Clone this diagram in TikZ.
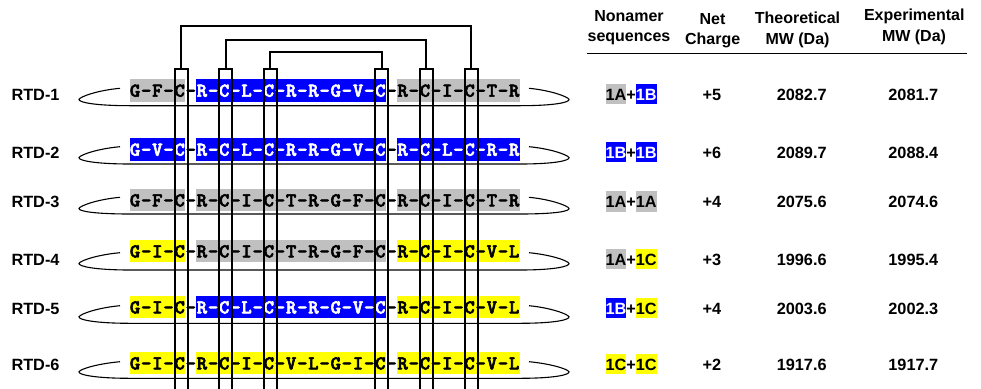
\documentclass[tikz,border=0pt]{standalone}
\usepackage{fontspec}
\setmainfont{Liberation Sans}
\newfontfamily\seqfont{lmmonolt10-bold.otf}[FakeBold=3]
\definecolor{resA}{HTML}{C0C0C0}
\definecolor{resB}{HTML}{0000FF}
\definecolor{resC}{HTML}{FFFF00}

% residues set on a fixed pitch, one cell per character
\newlength\respitch
\setlength\respitch{11.15pt}
\newcommand\rescells[1]{\rescellsi#1\relax}
\def\rescellsi#1{\ifx#1\relax\else\makebox[\respitch]{#1}\expandafter\rescellsi\fi}

% one cyclic peptide: three coloured nonamer halves joined by plain hyphens
\newcommand\peprow[8]{%
  \node[#3] (r#1a) at (129.5,#2) {\rescells{#4}};
  \node[seglink] (r#1d1) at (r#1a.base east) {\rescells{-}};
  \node[#5] (r#1b) at (r#1d1.base east) {\rescells{#6}};
  \node[seglink] (r#1d2) at (r#1b.base east) {\rescells{-}};
  \node[#7] (r#1c) at (r#1d2.base east) {\rescells{#8}};
}
% backbone closing the ring: top stroke, tips, bottom line
\newcommand\peptail[3]{%
  \draw[tail] (120,#1) .. controls (98,#1+2) and (81,#2-3) .. (79,#2)
    .. controls (78,#2+3) and (95,#3) .. (130,#3) -- (520,#3)
    .. controls (555,#3) and (570,#2+3) .. (569,#2)
    .. controls (567,#2-3) and (550,#1+2) .. (529,#1);
}
% one line of the table
\newcommand\tabrow[9]{%
  \node[lab] (lab#1) at (35.5,#2) {RTD-#1};
  \node[#3] (n#1a) at (605.5,#2) {#4};
  \node[plus] (n#1p) at (n#1a.base east) {+};
  \node[#5] (n#1b) at (n#1p.base east) {#6};
  \node[cell] (q#1) at (712,#2) {#7};
  \node[cell] (t#1) at (801.7,#2) {#8};
  \node[cell] (e#1) at (913.3,#2) {#9};
}

\begin{document}
\begin{tikzpicture}[x=1pt,y=-1pt,
  seg/.style={inner xsep=0pt,inner ysep=0pt,outer sep=0pt,anchor=base west,
    text height=17.4pt,text depth=5pt,
    font=\seqfont\fontsize{19.6pt}{20pt}\selectfont},
  segA/.style={seg,fill=resA,text=black},
  segB/.style={seg,fill=resB,text=white},
  segC/.style={seg,fill=resC,text=black},
  seglink/.style={seg,text=black},
  datafont/.style={font=\bfseries\fontsize{16.3pt}{18pt}\selectfont},
  lab/.style={datafont,inner sep=0pt,anchor=base},
  cell/.style={datafont,inner sep=0pt,anchor=base},
  head/.style={font=\bfseries\fontsize{16pt}{18pt}\selectfont,inner sep=0pt,anchor=base},
  nbox/.style={datafont,inner xsep=0pt,inner ysep=0pt,outer sep=0pt,anchor=base west,
    text height=16.5pt,text depth=3.8pt},
  nonA/.style={nbox,fill=resA,text=black},
  nonB/.style={nbox,fill=resB,text=white},
  nonC/.style={nbox,fill=resC,text=black},
  plus/.style={nbox,text=black},
  tail/.style={line width=1.1pt},
  bond/.style={line width=2pt,line join=miter}]
\useasboundingbox (0,0) rectangle (981,388);

% sequences
\peprow{1}{96.7}{segA}{G-F-C}{segB}{R-C-L-C-R-R-G-V-C}{segA}{R-C-I-C-T-R}
\peprow{2}{155.7}{segB}{G-V-C}{segB}{R-C-L-C-R-R-G-V-C}{segB}{R-C-L-C-R-R}
\peprow{3}{206.4}{segA}{G-F-C}{segA}{R-C-I-C-T-R-G-F-C}{segA}{R-C-I-C-T-R}
\peprow{4}{257.4}{segC}{G-I-C}{segA}{R-C-I-C-T-R-G-F-C}{segC}{R-C-I-C-V-L}
\peprow{5}{313.4}{segC}{G-I-C}{segB}{R-C-L-C-R-R-G-V-C}{segC}{R-C-I-C-V-L}
\peprow{6}{369.4}{segC}{G-I-C}{segC}{R-C-I-C-V-L-G-I-C}{segC}{R-C-I-C-V-L}

% ring backbones
\peptail{88.3}{99.3}{105.7}
\peptail{146.7}{157.5}{164}
\peptail{197.3}{208.3}{214}
\peptail{252.7}{263.3}{270}
\peptail{305.7}{316.7}{323.3}
\peptail{361.7}{371.7}{378.3}

% cysteine columns
\foreach \k/\x in {1/181,2/225.7,3/270.3,4/381.8,5/426.4,6/471}{
  \coordinate (cys\k) at (\x,68.5);
  \draw[bond] (\x-6.5,392) -- (\x-6.5,68.5) -- (\x+6.5,68.5) -- (\x+6.5,392);
}
% disulfide bridges
\coordinate (br1) at (320,26);
\coordinate (br2) at (320,39.5);
\coordinate (br3) at (320,52);
\draw[bond] (cys1) |- (br1) -| (cys6);
\draw[bond] (cys2) |- (br2) -| (cys5);
\draw[bond] (cys3) |- (br3) -| (cys4);

% table header
\node[head] (h1a) at (629,21.7) {Nonamer};
\node[head] (h1b) at (629,41.7) {sequences};
\node[head] (h2a) at (712.5,24) {Net};
\node[head] (h2b) at (712.7,44.3) {Charge};
\node[head] (h3a) at (797.5,23.5) {Theoretical};
\node[head] (h3b) at (797.5,44) {MW (Da)};
\node[head] (h4a) at (914.3,20.7) {Experimental};
\node[head] (h4b) at (914,41.7) {MW (Da)};
\coordinate (ruleL) at (587,53.3);
\coordinate (ruleR) at (967,53.3);
\draw[line width=1.6pt] (ruleL) -- (ruleR);

% table body
\tabrow{1}{100.5}{nonA}{1A}{nonB}{1B}{+5}{2082.7}{2081.7}
\tabrow{2}{158}{nonB}{1B}{nonB}{1B}{+6}{2089.7}{2088.4}
\tabrow{3}{207.7}{nonA}{1A}{nonA}{1A}{+4}{2075.6}{2074.6}
\tabrow{4}{265.5}{nonA}{1A}{nonC}{1C}{+3}{1996.6}{1995.4}
\tabrow{5}{314.3}{nonB}{1B}{nonC}{1C}{+4}{2003.6}{2002.3}
\tabrow{6}{370.3}{nonC}{1C}{nonC}{1C}{+2}{1917.6}{1917.7}
\end{tikzpicture}
\end{document}
